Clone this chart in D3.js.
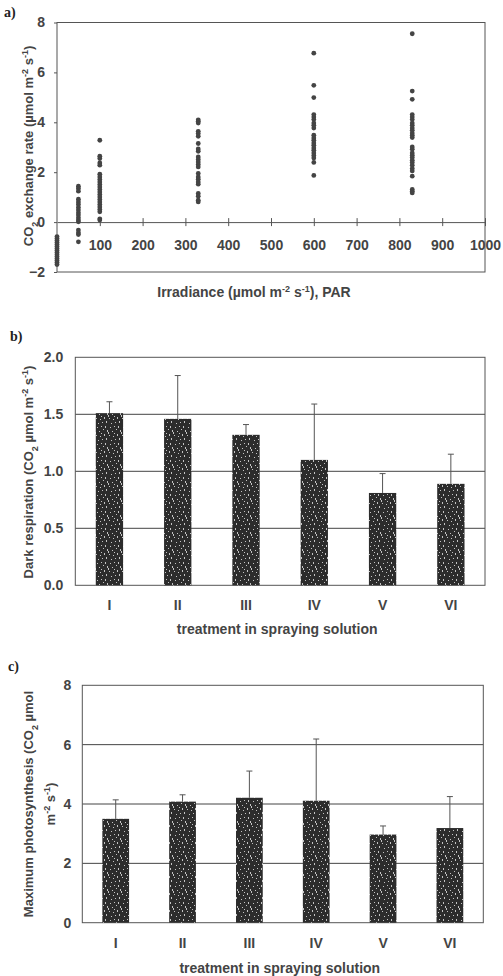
<!DOCTYPE html>
<html lang="en">
<head>
<meta charset="UTF-8">
<title>CO2 exchange, dark respiration and maximum photosynthesis</title>
<script src="https://d3js.org/d3.v7.min.js"></script>
<style>
  body { margin: 0; background: #fff; }
  svg text { font-family: "Liberation Sans", Arial, sans-serif; font-weight: bold; fill: #444; font-size: 13px; }
  svg text.tag { font-family: "Liberation Serif", "Times New Roman", serif; font-size: 14px; fill: #222; }
  svg text.xtitle { font-size: 14px; }
</style>
</head>
<body>
<div id="chart"></div>
<script>
// a) light response: CO2 exchange rate per irradiance level
const irradiance = [0, 50, 100, 330, 600, 830];
const rate0 = [-0.58, -0.66, -0.74, -0.82, -0.9, -0.98, -1.06, -1.14, -1.22, -1.3, -1.38, -1.46, -1.54, -1.62, -1.7];
const rate50 = [1.44, 1.35, 1.24, 0.92, 0.81, 0.71, 0.59, 0.48, 0.37, 0.28, 0.17, 0.08, 0.01, -0.32, -0.43, -0.5, -0.79];
const rate100 = [3.28, 2.64, 2.55, 2.37, 2.28, 1.92, 1.81, 1.71, 1.61, 1.51, 1.41, 1.31, 1.21, 1.11, 1.01, 0.91, 0.81, 0.71, 0.61, 0.51, 0.41, 0.13, 0.08];
const rate330 = [4.1, 4.04, 3.97, 3.64, 3.55, 3.44, 3.15, 2.93, 2.84, 2.61, 2.51, 2.41, 2.31, 2.21, 1.95, 1.81, 1.72, 1.61, 1.52, 1.15, 1.04, 0.88, 0.81];
const rate600 = [6.77, 5.48, 4.99, 4.31, 4.21, 4.11, 3.97, 3.88, 3.77, 3.48, 3.37, 3.28, 3.17, 3.08, 2.97, 2.88, 2.77, 2.67, 2.57, 2.39, 1.87];
const rate830 = [7.55, 5.25, 4.92, 4.31, 4.21, 4.11, 3.97, 3.88, 3.77, 3.68, 3.57, 3.48, 3.39, 3.01, 2.92, 2.77, 2.68, 2.59, 2.48, 2.39, 2.28, 2.15, 2.05, 1.84, 1.31, 1.24, 1.17];
const rates = [rate0, rate50, rate100, rate330, rate600, rate830];
const irrTicks = [100, 200, 300, 400, 500, 600, 700, 800, 900, 1000];
const rateTicks = [-2, 0, 2, 4, 6, 8];

// b) and c) treatments
const treatments = ['I', 'II', 'III', 'IV', 'V', 'VI'];
const darkResp = [1.51, 1.46, 1.32, 1.10, 0.81, 0.89];
const darkRespErr = [0.10, 0.38, 0.09, 0.49, 0.17, 0.26];
const darkTicks = [0, 0.5, 1.0, 1.5, 2.0];
const maxPhoto = [3.50, 4.08, 4.21, 4.11, 2.97, 3.19];
const maxPhotoErr = [0.64, 0.23, 0.90, 2.08, 0.29, 1.06];
const photoTicks = [0, 2, 4, 6, 8];

const svg = d3.select('#chart').append('svg')
    .attr('width', 503)
    .attr('height', 976);

svg.append('rect').attr('width', 503).attr('height', 976).attr('fill', '#fff');

// speckled bar fill, like the scanned halftone
const pat = svg.append('defs').append('pattern')
    .attr('id', 'speckle')
    .attr('patternUnits', 'userSpaceOnUse')
    .attr('width', 13).attr('height', 17);
pat.append('rect').attr('width', 13).attr('height', 17).attr('fill', '#2c2c2c');
[[1, 1], [6, 2], [10, 1], [3, 5], [8, 6], [12, 4], [0, 9], [5, 10], [9, 11],
 [2, 13], [7, 15], [11, 14], [4, 7], [10, 8]].forEach(([x, y], i) => {
    pat.append('rect').attr('x', x).attr('y', y).attr('width', 1).attr('height', i % 3 ? 1 : 2)
        .attr('fill', '#e8e8e8').attr('opacity', 0.8);
});

// text with sub/superscripts: parts like ['CO', {sub: '2'}, ' rate']
function richText(sel, parts) {
    parts.forEach(p => {
        if (typeof p === 'string') {
            sel.append('tspan').text(p);
        } else if (p.sup) {
            sel.append('tspan').text(p.sup).attr('baseline-shift', 'super').attr('font-size', '9px');
        } else if (p.sub) {
            sel.append('tspan').text(p.sub).attr('baseline-shift', 'sub').attr('font-size', '9px');
        }
    });
    return sel;
}

const frameColor = '#555';

// ---------- a) scatter ----------
const xA = d3.scaleLinear().domain([0, 1000]).range([57, 485]);
const yA = d3.scaleLinear().domain([-2, 8]).range([272, 22.5]);

svg.append('text').attr('class', 'tag').attr('x', 4).attr('y', 17).text('a)');

svg.append('rect')
    .attr('x', xA(0)).attr('y', yA(8))
    .attr('width', xA(1000) - xA(0)).attr('height', yA(-2) - yA(8))
    .attr('fill', 'none').attr('stroke', frameColor);

// x axis sits on the zero line
const axisA = svg.append('g').attr('transform', `translate(0,${yA(0)})`)
    .call(d3.axisBottom(xA).tickValues(irrTicks).tickFormat(d3.format('d')).tickSize(4).tickSizeOuter(0));
axisA.select('.domain').attr('stroke', frameColor);
axisA.selectAll('.tick line').attr('stroke', frameColor).attr('y1', -4);
axisA.selectAll('.tick text').attr('dy', null).attr('y', 28).attr('fill', '#444')
    .style('font-size', '14px');

const yAxisA = svg.append('g').attr('transform', `translate(${xA(0)},0)`)
    .call(d3.axisLeft(yA).tickValues(rateTicks).tickSize(3).tickPadding(9).tickSizeOuter(0));
yAxisA.select('.domain').remove();
yAxisA.selectAll('.tick line').attr('stroke', frameColor);
yAxisA.selectAll('.tick text').attr('fill', '#444').style('font-size', '14px');

irradiance.forEach((x, i) => {
    svg.append('g').selectAll('circle')
        .data(rates[i])
        .enter()
        .append('circle')
        .attr('cx', xA(x))
        .attr('cy', d => yA(d))
        .attr('r', 2.4)
        .attr('fill', '#444');
});

richText(svg.append('text').attr('class', 'xtitle').attr('x', 254).attr('y', 297).attr('text-anchor', 'middle'),
    ['Irradiance (\u00b5mol m', {sup: '-2'}, ' s', {sup: '-1'}, '), PAR']);

richText(svg.append('text').attr('transform', 'translate(33,146) rotate(-90)').attr('text-anchor', 'middle'),
    ['CO', {sub: '2'}, ' exchange rate (\u00b5mol m', {sup: '-2'}, ' s', {sup: '-1'}, ')']);

// ---------- bar panels ----------
function barPanel(opts) {
    const x = d3.scaleBand().domain(treatments).range([opts.x0, opts.x1])
        .paddingInner(0.6).paddingOuter(0.3);
    const y = d3.scaleLinear().domain(opts.domain).range([opts.y0, opts.y1]);
    const g = svg.append('g');

    // gridlines behind the bars
    g.selectAll('.grid')
        .data(opts.ticks.slice(1, -1))
        .enter()
        .append('line')
        .attr('x1', opts.x0).attr('x2', opts.x1)
        .attr('y1', d => y(d)).attr('y2', d => y(d))
        .attr('stroke', '#444');

    g.append('rect')
        .attr('x', opts.x0).attr('y', opts.y1)
        .attr('width', opts.x1 - opts.x0).attr('height', opts.y0 - opts.y1)
        .attr('fill', 'none').attr('stroke', frameColor);

    // error bars (upper half only)
    g.selectAll('.err')
        .data(opts.values)
        .enter()
        .append('line')
        .attr('x1', (d, i) => x(treatments[i]) + x.bandwidth() / 2)
        .attr('x2', (d, i) => x(treatments[i]) + x.bandwidth() / 2)
        .attr('y1', d => y(d))
        .attr('y2', (d, i) => y(d + opts.errors[i]))
        .attr('stroke', '#555');
    g.selectAll('.cap')
        .data(opts.values)
        .enter()
        .append('line')
        .attr('x1', (d, i) => x(treatments[i]) + x.bandwidth() / 2 - 3)
        .attr('x2', (d, i) => x(treatments[i]) + x.bandwidth() / 2 + 3)
        .attr('y1', (d, i) => y(d + opts.errors[i]))
        .attr('y2', (d, i) => y(d + opts.errors[i]))
        .attr('stroke', '#555');

    g.selectAll('.bar')
        .data(opts.values)
        .enter()
        .append('rect')
        .attr('x', (d, i) => x(treatments[i]))
        .attr('y', d => y(d))
        .attr('width', x.bandwidth())
        .attr('height', d => y(0) - y(d))
        .attr('fill', 'url(#speckle)');

    const xAxis = g.append('g').attr('transform', `translate(0,${opts.y0})`)
        .call(d3.axisBottom(x).tickSize(0).tickPadding(0));
    xAxis.select('.domain').remove();
    xAxis.selectAll('.tick text').attr('dy', null).attr('y', opts.xLabelY - opts.y0)
        .attr('fill', '#444').style('font-size', '14px');

    const yAxis = g.append('g').attr('transform', `translate(${opts.x0},0)`)
        .call(d3.axisLeft(y).tickValues(opts.ticks).tickFormat(opts.format)
            .tickSize(0).tickPadding(opts.tickPad));
    yAxis.select('.domain').remove();
    yAxis.selectAll('.tick text').attr('fill', '#444').style('font-size', '14px');

    g.append('text').attr('class', 'xtitle')
        .attr('x', (opts.x0 + opts.x1) / 2 - 3).attr('y', opts.titleY)
        .attr('text-anchor', 'middle')
        .text('treatment in spraying solution');
}

svg.append('text').attr('class', 'tag').attr('x', 10).attr('y', 341).text('b)');
barPanel({
    x0: 75.3, x1: 485, y0: 585.3, y1: 357.3,
    domain: [0, 2], ticks: darkTicks, format: d3.format('.1f'), tickPad: 12,
    values: darkResp, errors: darkRespErr,
    xLabelY: 610, titleY: 634
});
richText(svg.append('text').attr('transform', 'translate(33,472) rotate(-90)').attr('text-anchor', 'middle'),
    ['Dark respiration (CO', {sub: '2'}, ' \u00b5mol m', {sup: '-2'}, ' s', {sup: '-1'}, ')']);

svg.append('text').attr('class', 'tag').attr('x', 8).attr('y', 671).text('c)');
barPanel({
    x0: 82.3, x1: 483.3, y0: 922.7, y1: 685.3,
    domain: [0, 8], ticks: photoTicks, format: d3.format('d'), tickPad: 11,
    values: maxPhoto, errors: maxPhotoErr,
    xLabelY: 948, titleY: 973
});
const photoTitle = svg.append('text').attr('transform', 'translate(33,804) rotate(-90)').attr('text-anchor', 'middle');
richText(photoTitle, ['Maximum photosynthesis (CO', {sub: '2'}, ' \u00b5mol']);
richText(svg.append('text').attr('transform', 'translate(55,804) rotate(-90)').attr('text-anchor', 'middle'),
    ['m', {sup: '-2'}, ' s', {sup: '-1'}, ')']);
</script>
</body>
</html>
